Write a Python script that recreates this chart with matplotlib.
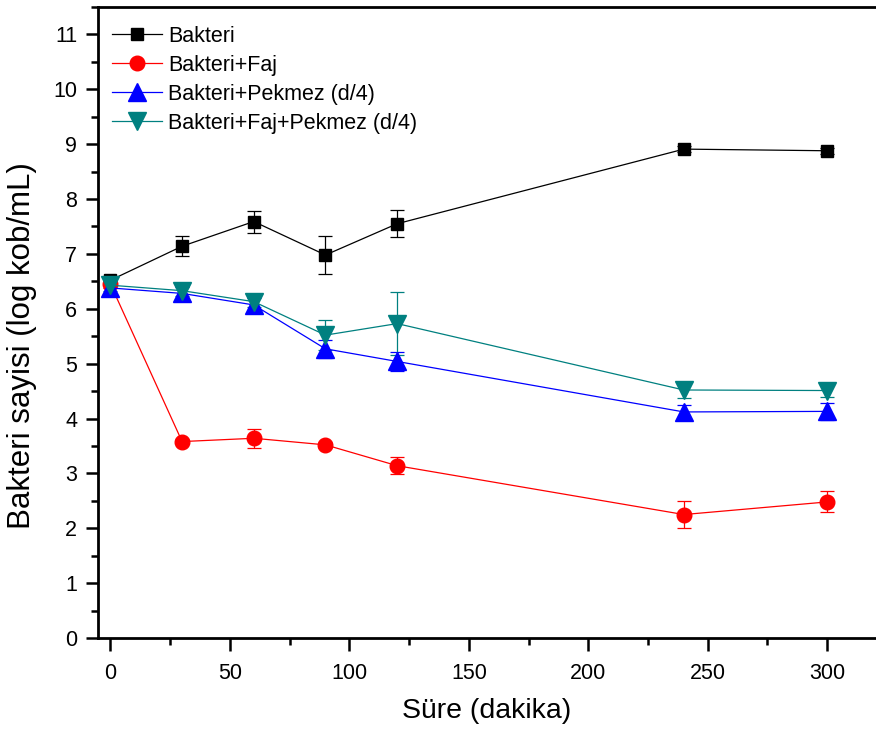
import matplotlib
matplotlib.use("Agg")
import matplotlib.pyplot as plt
from matplotlib.ticker import MultipleLocator
from matplotlib.lines import Line2D

plt.rcParams['font.family'] = ['Liberation Sans', 'DejaVu Sans']

time = [0, 30, 60, 90, 120, 240, 300]
bakteri = [6.52, 7.14, 7.59, 6.98, 7.55, 8.91, 8.88]
bakteri_err = [0.08, 0.18, 0.20, 0.35, 0.25, 0.05, 0.05]
faj = [6.45, 3.58, 3.64, 3.52, 3.14, 2.25, 2.48]
faj_err = [0.08, 0.05, 0.17, 0.05, 0.15, 0.24, 0.19]
pekmez = [6.38, 6.28, 6.07, 5.27, 5.04, 4.12, 4.13]
pekmez_err = [0.12, 0.12, 0.12, 0.17, 0.17, 0.12, 0.15]
fajpekmez = [6.43, 6.33, 6.13, 5.52, 5.73, 4.52, 4.51]
fajpekmez_err = [0.1, 0.1, 0.1, 0.28, 0.57, 0.15, 0.12]

labels = ['Bakteri', 'Bakteri+Faj', 'Bakteri+Pekmez (d/4)', 'Bakteri+Faj+Pekmez (d/4)']
colors = ['#000000', '#FF0000', '#0000FF', '#008080']
markers = ['s', 'o', '^', 'v']
msizes = [9, 10.5, 12.5, 12.5]
series = [(bakteri, bakteri_err), (faj, faj_err), (pekmez, pekmez_err), (fajpekmez, fajpekmez_err)]

fig = plt.figure(figsize=(8.76, 7.31), dpi=100)
ax = fig.add_axes([98/876, 1 - 638/731, (875 - 98)/876, (638 - 7)/731])

handles = []
for (vals, errs), lab, c, m, ms in zip(series, labels, colors, markers, msizes):
    ax.errorbar(time, vals, yerr=errs, color=c, marker=m, markersize=ms,
                linewidth=0.9, elinewidth=0.9, capsize=5, capthick=0.9)
    handles.append(Line2D([], [], color=c, marker=m, markersize=ms, linewidth=0.9, label=lab))

ax.set_xlim(-5.2, 320)
ax.set_ylim(0, 11.5)
ax.xaxis.set_major_locator(MultipleLocator(50))
ax.xaxis.set_minor_locator(MultipleLocator(25))
ax.yaxis.set_major_locator(MultipleLocator(1))
ax.yaxis.set_minor_locator(MultipleLocator(0.5))
ax.tick_params(which='major', direction='out', length=9, width=1.8, labelsize=15.5, pad=6)
ax.tick_params(axis='x', which='major', pad=9)
ax.tick_params(which='minor', direction='out', length=5, width=1.8)
for s in ax.spines.values():
    s.set_linewidth(2)
ax.spines['right'].set_visible(False)

ax.set_xlabel('Süre (dakika)', fontsize=20.5, labelpad=10)
ax.set_ylabel('Bakteri sayisi (log kob/mL)', fontsize=22.5)
ax.yaxis.set_label_coords(-0.078, 0.464)

leg = ax.legend(handles=handles, loc='upper left', frameon=False, fontsize=15.5,
                handlelength=2.3, handletextpad=0.3, borderaxespad=0.55,
                borderpad=0.35, labelspacing=0.37,
                bbox_to_anchor=(-0.0065, 1.001))

fig.savefig('out.png', dpi=100)
